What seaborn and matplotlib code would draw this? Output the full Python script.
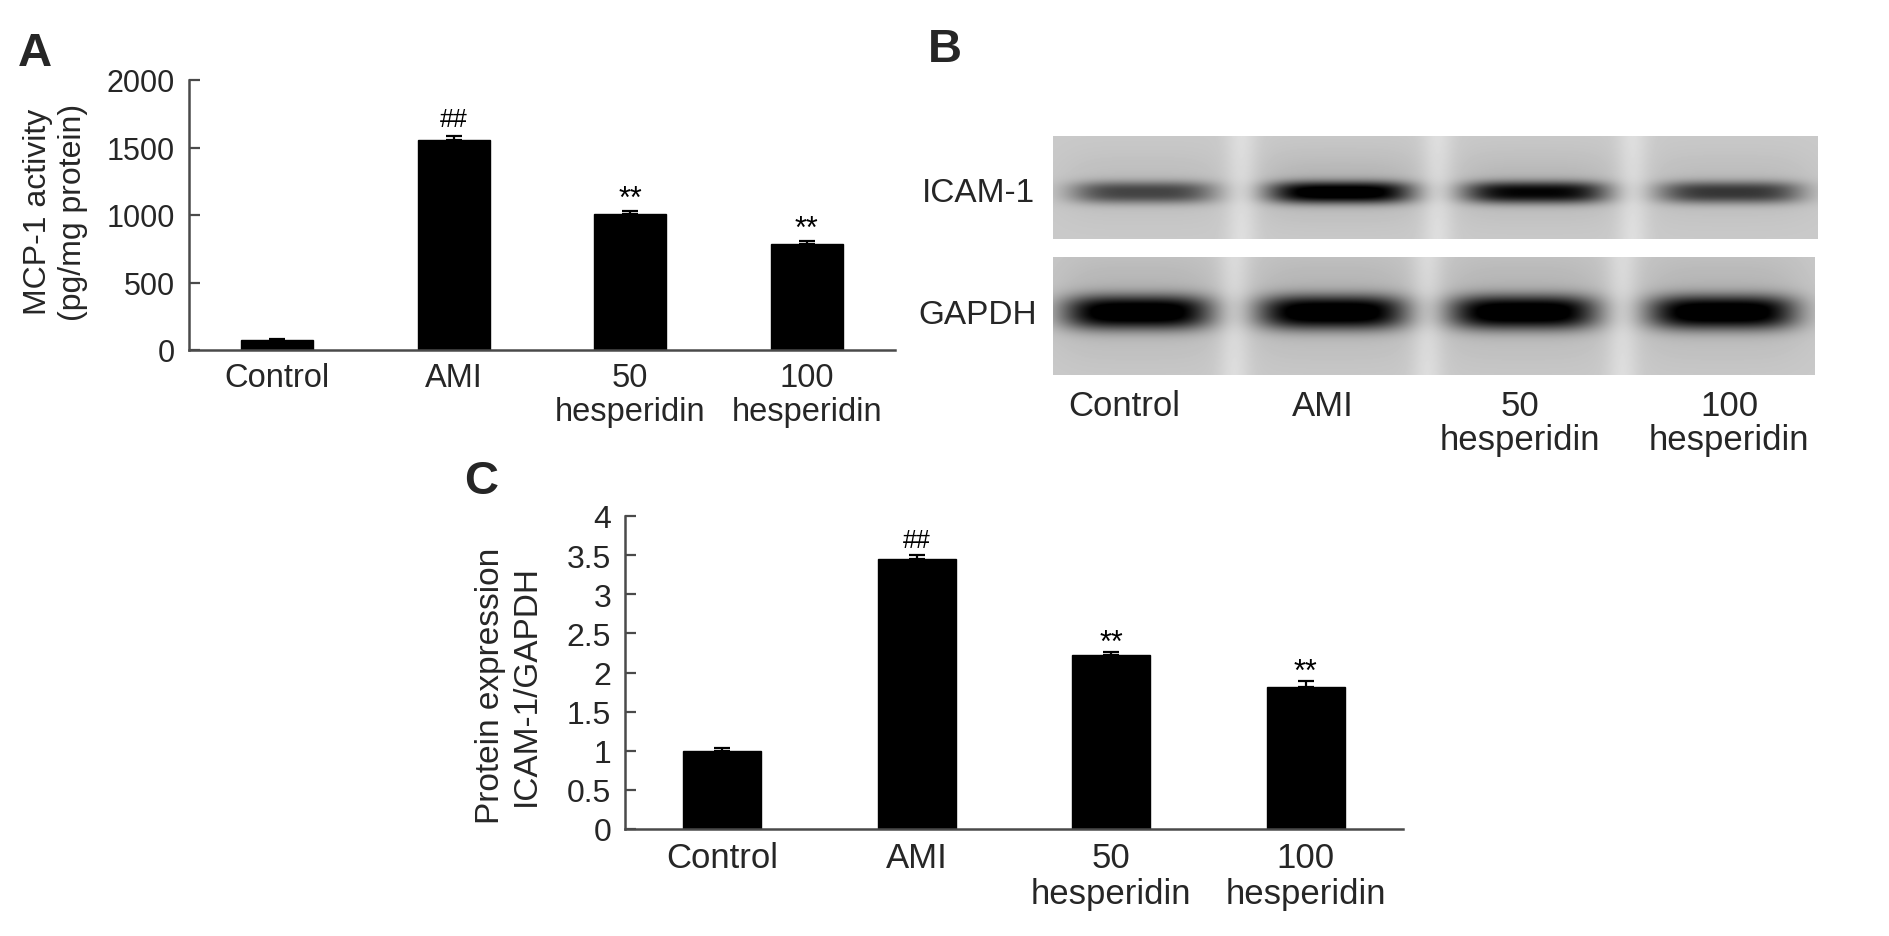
import numpy as np
import pandas as pd
import matplotlib
matplotlib.use("Agg")
import matplotlib.pyplot as plt
import seaborn as sns

sns.set_theme(style="white")
plt.rcParams['font.family'] = ['Liberation Sans', 'DejaVu Sans']

# ---- data ----
groups = ["Control", "AMI", "50\nhesperidin", "100\nhesperidin"]
mcp1_values = [75, 1552, 1010, 782]
mcp1_err = [8, 35, 22, 24]
mcp1_marks = ["", "##", "**", "**"]

icam_values = [1.00, 3.45, 2.22, 1.81]
icam_err = [0.04, 0.05, 0.04, 0.08]
icam_marks = ["", "##", "**", "**"]

blot_rows = ["ICAM-1", "GAPDH"]
icam_band = [0.58, 0.98, 0.86, 0.64]
gapdh_band = [1.0, 1.0, 1.0, 1.0]

W, H = 1890, 937
fig = plt.figure(figsize=(W / 100, H / 100), dpi=100)

def px_axes(x0, x1, y_top, y_bot):
    return fig.add_axes([x0 / W, 1 - y_bot / H, (x1 - x0) / W, (y_bot - y_top) / H])

AXC = "#4a4a4a"

def bar_panel(ax, values, err, marks, ymax, ystep, ylabel, tick_fs, cat_fs, lab_fs,
              label_xy, fmt, bar_w, off_hash, off_star, cat_ls):
    df = pd.DataFrame({"group": groups, "value": values})
    sns.barplot(data=df, x="group", y="value", color="black", width=bar_w,
                saturation=1, ax=ax, errorbar=None)
    for p in ax.patches:
        p.set_edgecolor("black")
    ax.errorbar(range(len(values)), values, yerr=[[0] * len(err), err], fmt="none",
                ecolor="black", elinewidth=1.6, capsize=6, capthick=1.6)
    for i, (v, e, m) in enumerate(zip(values, err, marks)):
        if m == "##":
            ax.annotate(m, (i, v + e), xytext=(0, off_hash), textcoords="offset points",
                        ha="center", va="baseline", fontsize=18, color="black")
        elif m:
            ax.annotate(m, (i, v + e), xytext=(0, off_star), textcoords="offset points",
                        ha="center", va="baseline", fontsize=22, color="black")
    ax.set_xlim(-0.5, 3.5)
    ax.set_ylim(0, ymax)
    ticks = np.arange(0, ymax + ystep / 2, ystep)
    ax.set_yticks(ticks)
    ax.set_yticklabels([fmt(t) for t in ticks], fontsize=tick_fs)
    ax.set_xticks(range(4))
    ax.set_xticklabels(groups, fontsize=cat_fs, linespacing=cat_ls)
    ax.set_xticks([0.5, 1.5, 2.5, 3.5], minor=True)
    ax.tick_params(axis="x", which="major", length=0, pad=9)
    ax.tick_params(axis="x", which="minor", direction="in", length=8, width=1.6, color=AXC)
    ax.tick_params(axis="y", direction="in", length=8, width=1.6, color=AXC, pad=10,
                   left=True)
    ax.set_xlabel("")
    ax.set_ylabel(ylabel, fontsize=lab_fs, linespacing=1.2)
    ax.yaxis.set_label_coords(*label_xy)
    for s in ["top", "right"]:
        ax.spines[s].set_visible(False)
    for s in ["left", "bottom"]:
        ax.spines[s].set_color(AXC)
        ax.spines[s].set_linewidth(1.8)
    ax.set_facecolor("white")

# ---- Panel A ----
A_x0, A_x1, A_top, A_bot = 189, 895, 81, 351
axA = px_axes(A_x0, A_x1, A_top, A_bot)
bar_panel(axA, mcp1_values, mcp1_err, mcp1_marks, 2000, 500,
          "MCP-1 activity\n(pg/mg protein)", 22, 23.5, 23,
          ((88 - A_x0) / (A_x1 - A_x0), (A_bot - 212) / (A_bot - A_top)),
          lambda t: f"{int(t)}", 0.41, 7, 3, 1.1)

# ---- Panel C ----
C_x0, C_x1, C_top, C_bot = 625, 1403, 517, 830
axC = px_axes(C_x0, C_x1, C_top, C_bot)
bar_panel(axC, icam_values, icam_err, icam_marks, 4, 0.5,
          "Protein expression\nICAM-1/GAPDH", 23, 25, 24,
          ((542 - C_x0) / (C_x1 - C_x0), (C_bot - 686) / (C_bot - C_top)),
          lambda t: f"{t:g}", 0.40, 6, 1, 1.1)

# ---- Panel B: western blot ----
axB = px_axes(1053, 1818, 130, 380)
axB.axis("off")

def blot(width, height, intens, centers, half_w, sigma, yc):
    xx = np.arange(width)[None, :].astype(float)
    yy = np.arange(height)[:, None].astype(float)
    img = np.full((height, width), 0.79) + 0 * yy
    for k in range(len(centers) - 1):
        g = (centers[k] + centers[k + 1]) / 2
        img = img + 0.08 * np.exp(-((xx - g) / 16.0) ** 2)
    for c, a in zip(centers, intens):
        prof_x = np.exp(-(np.abs(xx - c) / half_w) ** 4)
        prof_x_wide = np.exp(-(np.abs(xx - c) / (half_w + 12)) ** 4)
        core = np.exp(-(np.abs(yy - yc) / sigma) ** 2.6)
        halo = np.exp(-((yy - yc + sigma * 0.6) / (sigma * 3.0)) ** 2)
        img = img - a * 0.82 * prof_x * core
        img = img - a * 0.09 * prof_x_wide * halo
    return np.clip(img, 0, 1)

top_img = blot(765, 103, icam_band, [90, 287, 482, 677], 72, 11.0, 56)
bot_img = blot(762, 118, gapdh_band, [84, 279, 470, 669], 74, 17.0, 55)
axB.imshow(top_img, cmap="gray", vmin=0, vmax=1, extent=(0, 765, 110, 7),
           aspect="auto", interpolation="bilinear")
axB.imshow(bot_img, cmap="gray", vmin=0, vmax=1, extent=(0, 762, 246, 128),
           aspect="auto", interpolation="bilinear")
axB.set_xlim(0, 765)
axB.set_ylim(250, 0)

fig.text(1035 / W, 1 - 193 / H, blot_rows[0], ha="right", va="center", fontsize=24)
fig.text(1037 / W, 1 - 315 / H, blot_rows[1], ha="right", va="center", fontsize=24)
lane_x = [1124, 1323, 1520, 1729]
for lx, g in zip(lane_x, groups):
    fig.text(lx / W, 1 - 390 / H, g, ha="center", va="top", fontsize=25, linespacing=1.05)

# ---- panel letters ----
fig.text(18 / W, 1 - 66 / H, "A", fontsize=34, fontweight="bold", va="baseline")
fig.text(928 / W, 1 - 62 / H, "B", fontsize=34, fontweight="bold", va="baseline")
fig.text(464 / W, 1 - 494 / H, "C", fontsize=34, fontweight="bold", va="baseline")

fig.savefig("out.png", dpi=100, facecolor="white")
